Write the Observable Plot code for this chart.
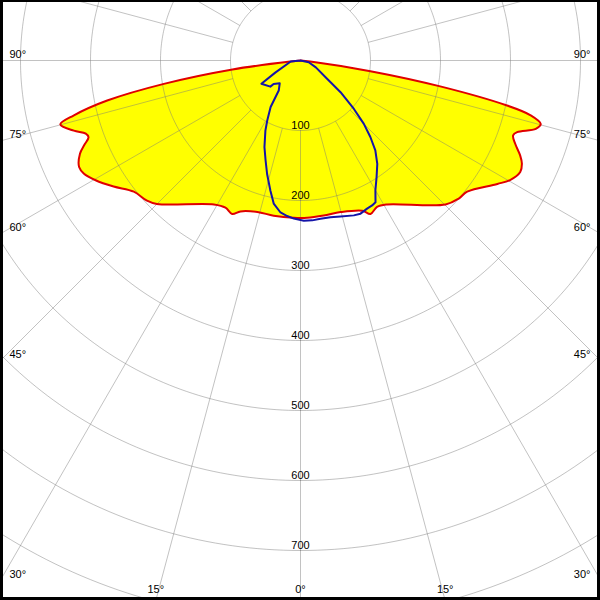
<!DOCTYPE html>
<html><head><meta charset="utf-8">
<script src="https://cdn.jsdelivr.net/npm/d3@7"></script>
<script src="https://cdn.jsdelivr.net/npm/@observablehq/plot@0.6"></script>
<style>
body{margin:0;background:#fff}
#wrap{position:relative;width:600px;height:600px;overflow:hidden;background:#fff}
#frame{position:absolute;left:0;top:0;width:600px;height:600px;box-sizing:border-box;border-style:solid;border-color:#000;border-width:2px 3px 3px 3px;pointer-events:none}
</style></head><body>
<div id="wrap"><div id="frame"></div></div>
<script>
// Red curve (yellow filled): angle (deg, 0 = down, negative = left), intensity
const redAngles = [-90,-84.3,-82.5,-80.3,-78.3,-76.4,-75.1,-72.8,-71.2,-70.1,-68.6,-67.1,-64.3,-62.4,-59.7,-56,-51.8,-47.6,-45,-31,-27,-24,-21.7,-15.9,-9.8,-2.4,2.4,8.5,14.8,22.4,24.5,27.6,31,45.2,48.9,51.8,57.9,60.4,63.1,65,66.6,68.8,70.6,71.7,73.8,75.2,76.6,77.7,79.5,81.3,84,90];
const redValues = [0,14,98,198,282,333,355,339,324,322,332,342,351,349,339,322,303,297,290,240,236,240,232,225,225,225,225,224,224,232,241,236,240,292,300,303,332,345,352,349,342,329,322,326,350,355,338,302,203,101,14,0];
// Blue curve
const blueAngles = [-90,-84.3,-64.4,-59.3,-49.1,-48.9,-42.4,-35.9,-32.7,-29,-26.6,-22.6,-19.3,-16.4,-13,-10.6,-7.5,-4.9,-2.4,1.2,4.2,7.2,10.8,14.4,19,21.4,24.2,26.3,27.9,30,33.1,36.6,39.8,42.4,45,47.8,51.6,55.6,65.9,78.4,90];
const blueValues = [0,14,40,65,57,51,44,53,79,98,112,134,151,169,191,208,219,223,226,229,229,228,228,230,234,235,232,231,229,214,199,184,167,148,128,103,73,46,24,12,0];
// Grid
const ringValues = [100,200,300,400,500,600,700,800];
const ringLabels = [100,200,300,400,500,600,700];
const spokeAngles = d3.range(0, 360, 15);
const sideLabelAngles = [90,75,60,45,30];
const bottomLabelAngles = [-15,0,15];

const K = 0.7; // px per unit
const xEdge = 300 / K, yTop = -60 / K, yBottom = 540 / K;
function polar(a, r) { const t = a * Math.PI / 180; return {x: r * Math.sin(t), y: r * Math.cos(t)}; }

const redPts = redAngles.map((a, i) => polar(a, redValues[i]));
const bluePts = blueAngles.map((a, i) => polar(a, blueValues[i]));
const circles = ringValues.flatMap(r => d3.range(0, 361, 1).map(a => ({r, ...polar(a, r)})));
const spokes = spokeAngles.map(a => { const p1 = polar(a, 100), p2 = polar(a, 1100); return {x1: p1.x, y1: p1.y, x2: p2.x, y2: p2.y}; });
const leftLabels = sideLabelAngles.map(a => ({x: -xEdge, y: a === 90 ? 0 : xEdge / Math.tan(a * Math.PI / 180), t: a + "°"}));
const rightLabels = sideLabelAngles.map(a => ({x: xEdge, y: a === 90 ? 0 : xEdge / Math.tan(a * Math.PI / 180), t: a + "°"}));
const bottomLabels = bottomLabelAngles.map(a => ({x: yBottom * Math.tan(a * Math.PI / 180), y: yBottom, t: Math.abs(a) + "°"}));
const ringText = ringLabels.map(r => ({x: 0, y: r, t: String(r)}));

const gridStroke = "#777";
const svg = Plot.plot({
  width: 600, height: 600,
  margin: 0,
  x: {domain: [-xEdge, xEdge], axis: null},
  y: {domain: [yTop, yBottom], range: [0, 600], axis: null},
  style: {fontFamily: "'Liberation Sans', Arial, sans-serif", fontSize: "11px", background: "white"},
  marks: [
    Plot.line(redPts, {x: "x", y: "y", fill: "#ffff00", stroke: "none", curve: "catmull-rom"}),
    Plot.line(circles, {x: "x", y: "y", z: "r", stroke: gridStroke, strokeOpacity: 0.45, strokeWidth: 1}),
    Plot.link(spokes, {x1: "x1", y1: "y1", x2: "x2", y2: "y2", stroke: gridStroke, strokeOpacity: 0.45, strokeWidth: 1}),
    Plot.line(redPts, {x: "x", y: "y", stroke: "#e00000", strokeWidth: 2, curve: "catmull-rom"}),
    Plot.line(bluePts, {x: "x", y: "y", stroke: "#1414a8", strokeWidth: 2, curve: "linear"}),
    Plot.text(ringText, {x: "x", y: "y", text: "t", dy: -5, fill: "black"}),
    Plot.text(leftLabels, {x: "x", y: "y", text: "t", textAnchor: "start", dx: 9, dy: -6, fill: "black"}),
    Plot.text(rightLabels, {x: "x", y: "y", text: "t", textAnchor: "end", dx: -10, dy: -6, fill: "black"}),
    Plot.text(bottomLabels, {x: "x", y: "y", text: "t", textAnchor: "middle", dy: -11.5, fill: "black"})
  ]
});
const wrap = document.getElementById("wrap");
wrap.insertBefore(svg, document.getElementById("frame"));
</script>
</body></html>
